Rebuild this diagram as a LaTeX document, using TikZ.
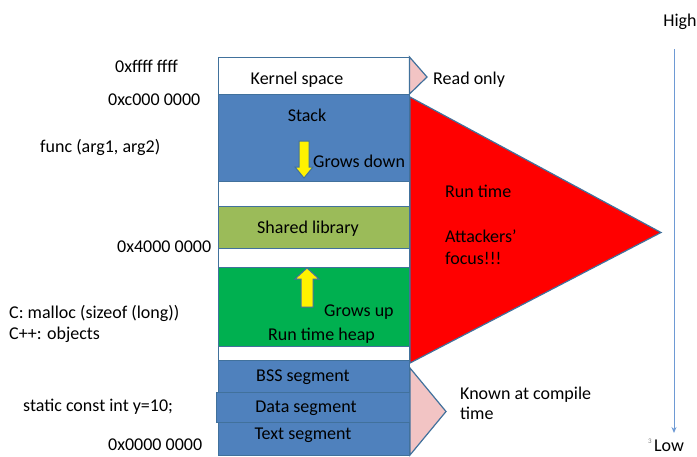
\documentclass[tikz,border=0pt]{standalone}
\usepackage{fontspec}
\setmainfont{Carlito}
\usetikzlibrary{arrows.meta}
\definecolor{segblue}{HTML}{4F81BD}
\definecolor{edgeblue}{HTML}{41719C}
\definecolor{olive}{HTML}{9BBB59}
\definecolor{heapgreen}{HTML}{00B050}
\definecolor{pinkfill}{HTML}{F2C4C4}
\definecolor{axisblue}{HTML}{6E9AD4}
\begin{document}
\begin{tikzpicture}[x=1pt,y=-1pt,
  txt/.style={font=\fontsize{18}{21}\selectfont, inner sep=0pt, text=black, yshift=-1.5pt},
  seg/.style={draw=edgeblue, line width=1.2pt, inner sep=0pt, anchor=north west, minimum width=191pt},
  tri/.style={draw=edgeblue, line width=1.2pt, line join=miter},
  blockarrow/.style={draw=edgeblue, line width=1pt, fill=yellow}]
\useasboundingbox (0,0) rectangle (697,456);

% whole column outline
\node[seg, fill=white, minimum height=398pt] (column) at (218,57) {};
% segments
\node[seg, fill=white, minimum height=37pt] (kernel) at (218,57) {};
\node[seg, fill=segblue, minimum height=87pt] (stack) at (218,94) {};
\node[seg, fill=olive, minimum height=42pt] (shlib) at (218,206) {};
\node[seg, fill=heapgreen, minimum height=79pt] (heap) at (218,266.5) {};
\node[seg, fill=segblue, minimum height=32pt] (bss) at (218,359.5) {};
\node[seg, fill=segblue, minimum height=30pt, minimum width=194pt] (data) at (216,391.5) {};
\node[seg, fill=segblue, minimum height=33.5pt] (text) at (218,421.5) {};

% triangles
\draw[tri, fill=pinkfill] (409.5,57) -- (427,77) -- (409.5,94) -- cycle;
\draw[tri, fill=red] (410,97) -- (661,232.5) -- (410,363) -- cycle;
\draw[tri, fill=pinkfill] (410,368) -- (446,411.5) -- (410,455) -- cycle;

% block arrows
\draw[blockarrow] (299,141) -- (309,141) -- (309,167) -- (313,167) -- (304,178) -- (295,167) -- (299,167) -- cycle;
\draw[blockarrow] (301,307) -- (313,307) -- (313,279) -- (319,279) -- (307,268) -- (295,279) -- (301,279) -- cycle;

% segment labels
\node[txt] (kerneltxt) at (297,78) {Kernel space};
\node[txt] (stacktxt) at (307,114) {Stack};
\node[txt, anchor=west] (growsdown) at (313,160) {Grows down};
\node[txt] (shlibtxt) at (308,227) {Shared library};
\node[txt, anchor=west] (growsup) at (324,311) {Grows up};
\node[txt, anchor=west] (heaptxt) at (268,334) {Run time heap};
\node[txt] (bsstxt) at (303,376) {BSS segment};
\node[txt] (datatxt) at (306,407) {Data segment};
\node[txt] (texttxt) at (303,434) {Text segment};

% right labels
\node[txt, anchor=west] (readonly) at (433,78) {Read only};
\node[txt, anchor=west] (runtime) at (445,190) {Run time};
\node[txt, anchor=west, align=left, font=\fontsize{18}{22}\selectfont] (focus) at (445,246) {Attackers’\\focus!!!};
\node[txt, anchor=west, align=left, font=\fontsize{18}{20}\selectfont] (known) at (460,402) {Known at compile\\time};

% left labels
\node[txt, anchor=west] (addrtop) at (115,65) {0xffff ffff};
\node[txt, anchor=west] (addrc) at (108,98) {0xc000 0000};
\node[txt, anchor=west] (func) at (40,146) {func (arg1, arg2)};
\node[txt, anchor=west] (addr4) at (117,245) {0x4000 0000};
\node[txt, anchor=west, align=left] (malloc) at (9,322.5) {C: malloc (sizeof (long))\\C++: objects};
\node[txt, anchor=west] (static) at (23,405) {static const int y=10;};
\node[txt, anchor=west] (addr0) at (108,443.5) {0x0000 0000};

% high / low axis
\node[txt] (high) at (680,20) {High};
\node[txt] (low) at (669,444) {Low};
\node[font=\fontsize{7}{8}\selectfont, text=gray, inner sep=0pt] (pagenum) at (650,441) {3};
\coordinate (axtop) at (674,49);
\coordinate (axbot) at (674,433);
\draw[axisblue, line width=1pt, -{Stealth[length=6pt,width=5pt]}] (axtop) -- (axbot);
\end{tikzpicture}
\end{document}
